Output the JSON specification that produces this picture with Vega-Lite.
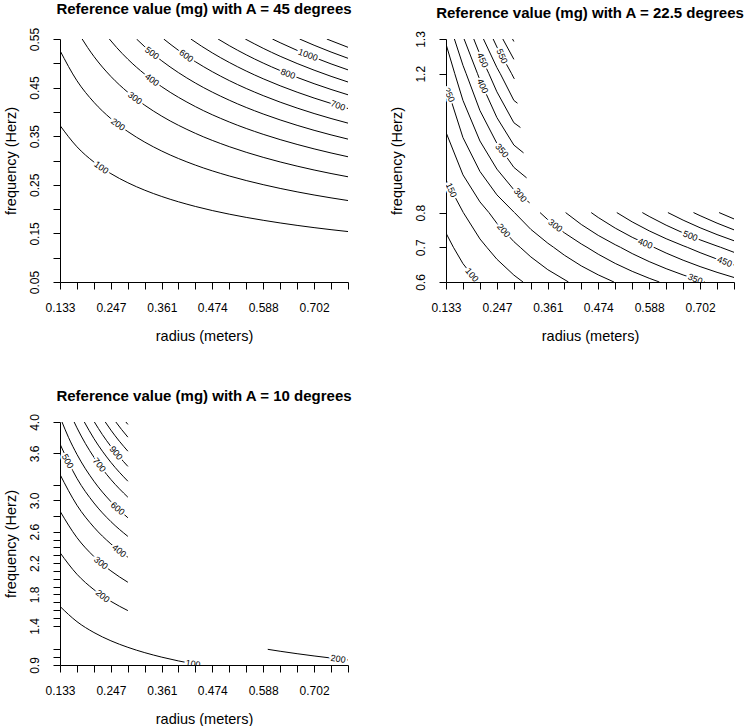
{
"$schema": "https://vega.github.io/schema/vega-lite/v6.json",
"background": "white",
"padding": {"left": 2, "top": 2, "right": 0, "bottom": 0},
"config": {
  "view": {"stroke": null},
  "font": "Liberation Sans",
  "axis": {"domainColor": "#000", "tickColor": "#000", "labelColor": "#000", "titleColor": "#000", "domainWidth": 1, "tickWidth": 1, "tickSize": 7, "grid": false, "labelFont": "Liberation Sans", "labelFontSize": 12, "titleFont": "Liberation Sans", "titleFontSize": 14.5, "titleFontWeight": "normal", "labelOverlap": false, "labelFlush": false, "zindex": 1},
  "axisX": {"labelPadding": 13, "titlePadding": 16},
  "axisY": {"labelAngle": 270, "labelAlign": "center", "labelBaseline": "bottom", "labelPadding": 12, "titlePadding": 10},
  "title": {"font": "Liberation Sans", "fontSize": 15, "fontWeight": "bold", "color": "#000", "anchor": "middle", "frame": "group", "offset": 10}
},
"datasets": {
  "c1": [
    {"lev":100,"r":0.133,"f":0.3721},{"lev":100,"r":0.171,"f":0.3282},{"lev":100,"r":0.209,"f":0.2968},{"lev":100,"r":0.247,"f":0.2730},{"lev":100,"r":0.285,"f":0.2542},{"lev":100,"r":0.323,"f":0.2388},{"lev":100,"r":0.361,"f":0.2259},{"lev":100,"r":0.436,"f":0.2055},{"lev":100,"r":0.512,"f":0.1896},{"lev":100,"r":0.588,"f":0.1770},{"lev":100,"r":0.664,"f":0.1665},{"lev":100,"r":0.740,"f":0.1577},{"lev":100,"r":0.778,"f":0.1538},
    {"lev":200,"r":0.133,"f":0.5262},{"lev":200,"r":0.171,"f":0.4641},{"lev":200,"r":0.209,"f":0.4198},{"lev":200,"r":0.247,"f":0.3861},{"lev":200,"r":0.285,"f":0.3595},{"lev":200,"r":0.323,"f":0.3377},{"lev":200,"r":0.361,"f":0.3194},{"lev":200,"r":0.436,"f":0.2906},{"lev":200,"r":0.512,"f":0.2682},{"lev":200,"r":0.588,"f":0.2503},{"lev":200,"r":0.664,"f":0.2355},{"lev":200,"r":0.740,"f":0.2231},{"lev":200,"r":0.778,"f":0.2176},
    {"lev":300,"r":0.1826,"f":0.55},{"lev":300,"r":0.195,"f":0.5323},{"lev":300,"r":0.209,"f":0.5141},{"lev":300,"r":0.247,"f":0.4729},{"lev":300,"r":0.285,"f":0.4403},{"lev":300,"r":0.323,"f":0.4136},{"lev":300,"r":0.361,"f":0.3912},{"lev":300,"r":0.436,"f":0.3560},{"lev":300,"r":0.512,"f":0.3285},{"lev":300,"r":0.588,"f":0.3065},{"lev":300,"r":0.664,"f":0.2884},{"lev":300,"r":0.740,"f":0.2732},{"lev":300,"r":0.778,"f":0.2665},
    {"lev":400,"r":0.2435,"f":0.55},{"lev":400,"r":0.26,"f":0.5323},{"lev":400,"r":0.285,"f":0.5084},{"lev":400,"r":0.323,"f":0.4775},{"lev":400,"r":0.361,"f":0.4517},{"lev":400,"r":0.436,"f":0.4110},{"lev":400,"r":0.512,"f":0.3793},{"lev":400,"r":0.588,"f":0.3539},{"lev":400,"r":0.664,"f":0.3331},{"lev":400,"r":0.740,"f":0.3155},{"lev":400,"r":0.778,"f":0.3077},
    {"lev":500,"r":0.3044,"f":0.55},{"lev":500,"r":0.323,"f":0.5339},{"lev":500,"r":0.361,"f":0.5050},{"lev":500,"r":0.398,"f":0.4810},{"lev":500,"r":0.436,"f":0.4595},{"lev":500,"r":0.512,"f":0.4241},{"lev":500,"r":0.588,"f":0.3957},{"lev":500,"r":0.664,"f":0.3724},{"lev":500,"r":0.740,"f":0.3527},{"lev":500,"r":0.778,"f":0.3440},
    {"lev":600,"r":0.3653,"f":0.55},{"lev":600,"r":0.398,"f":0.5269},{"lev":600,"r":0.436,"f":0.5034},{"lev":600,"r":0.474,"f":0.4828},{"lev":600,"r":0.512,"f":0.4645},{"lev":600,"r":0.588,"f":0.4335},{"lev":600,"r":0.664,"f":0.4079},{"lev":600,"r":0.740,"f":0.3864},{"lev":600,"r":0.778,"f":0.3769},
    {"lev":700,"r":0.4261,"f":0.55},{"lev":700,"r":0.45,"f":0.5352},{"lev":700,"r":0.474,"f":0.5215},{"lev":700,"r":0.512,"f":0.5018},{"lev":700,"r":0.550,"f":0.4841},{"lev":700,"r":0.588,"f":0.4682},{"lev":700,"r":0.664,"f":0.4406},{"lev":700,"r":0.740,"f":0.4174},{"lev":700,"r":0.778,"f":0.4070},
    {"lev":800,"r":0.487,"f":0.55},{"lev":800,"r":0.512,"f":0.5364},{"lev":800,"r":0.550,"f":0.5175},{"lev":800,"r":0.588,"f":0.5005},{"lev":800,"r":0.626,"f":0.4851},{"lev":800,"r":0.664,"f":0.4710},{"lev":800,"r":0.702,"f":0.4581},{"lev":800,"r":0.740,"f":0.4462},{"lev":800,"r":0.778,"f":0.4352},
    {"lev":900,"r":0.5479,"f":0.55},{"lev":900,"r":0.588,"f":0.5309},{"lev":900,"r":0.626,"f":0.5145},{"lev":900,"r":0.664,"f":0.4996},{"lev":900,"r":0.702,"f":0.4859},{"lev":900,"r":0.740,"f":0.4732},{"lev":900,"r":0.778,"f":0.4615},
    {"lev":1000,"r":0.6087,"f":0.55},{"lev":1000,"r":0.626,"f":0.5424},{"lev":1000,"r":0.664,"f":0.5266},{"lev":1000,"r":0.702,"f":0.5122},{"lev":1000,"r":0.740,"f":0.4988},{"lev":1000,"r":0.778,"f":0.4865},
    {"lev":1100,"r":0.6696,"f":0.55},{"lev":1100,"r":0.702,"f":0.5372},{"lev":1100,"r":0.740,"f":0.5232},{"lev":1100,"r":0.778,"f":0.5103},
    {"lev":1200,"r":0.7305,"f":0.55},{"lev":1200,"r":0.740,"f":0.5465},{"lev":1200,"r":0.778,"f":0.5329}
  ],
  "l1a": [
    {"lab":"100","r":0.2257,"f":0.2856},{"lab":"200","r":0.2629,"f":0.3743},{"lab":"300","r":0.301,"f":0.4284},{"lab":"400","r":0.339,"f":0.4661},{"lab":"500","r":0.339,"f":0.5211},{"lab":"600","r":0.416,"f":0.5154}
  ],
  "l1b": [
    {"lab":"800","r":0.6436,"f":0.4784},{"lab":"1000","r":0.6884,"f":0.5172},{"lab":"700","r":0.7556,"f":0.4130}
  ],
  "c2": [
    {"id":"100","r":0.133,"f":0.7408},{"id":"100","r":0.1496,"f":0.7},{"id":"100","r":0.171,"f":0.6529},{"id":"100","r":0.2036,"f":0.6},
    {"id":"150","r":0.133,"f":0.8934},{"id":"150","r":0.1718,"f":0.8},{"id":"150","r":0.209,"f":0.7241},{"id":"150","r":0.2244,"f":0.7},{"id":"150","r":0.247,"f":0.6656},{"id":"150","r":0.285,"f":0.6199},{"id":"150","r":0.3055,"f":0.6},
    {"id":"200","r":0.133,"f":1.0312},{"id":"200","r":0.171,"f":0.9087},{"id":"200","r":0.209,"f":0.8308},{"id":"200","r":0.2291,"f":0.8},{"id":"200","r":0.247,"f":0.7691},{"id":"200","r":0.285,"f":0.7163},{"id":"200","r":0.2992,"f":0.7},{"id":"200","r":0.323,"f":0.6723},{"id":"200","r":0.361,"f":0.6355},{"id":"200","r":0.4073,"f":0.6},
    {"id":"250","r":0.133,"f":1.169},{"id":"250","r":0.171,"f":1.0159},{"id":"250","r":0.209,"f":0.9185},{"id":"250","r":0.247,"f":0.851},{"id":"250","r":0.285,"f":0.8016},{"id":"250","r":0.2864,"f":0.8},{"id":"250","r":0.323,"f":0.7516},{"id":"250","r":0.361,"f":0.7118},{"id":"250","r":0.374,"f":0.7},{"id":"250","r":0.398,"f":0.6773},{"id":"250","r":0.436,"f":0.6464},{"id":"250","r":0.474,"f":0.6205},{"id":"250","r":0.5091,"f":0.6},
    {"id":"300a","r":0.133,"f":1.2854},{"id":"300a","r":0.1527,"f":1.2},{"id":"300a","r":0.171,"f":1.1231},{"id":"300a","r":0.209,"f":1.0062},{"id":"300a","r":0.247,"f":0.9252},{"id":"300a","r":0.285,"f":0.8658},{"id":"300a","r":0.3203,"f":0.828},
    {"id":"300b","r":0.3436,"f":0.8},{"id":"300b","r":0.361,"f":0.7795},{"id":"300b","r":0.398,"f":0.7418},{"id":"300b","r":0.436,"f":0.7096},{"id":"300b","r":0.4488,"f":0.7},{"id":"300b","r":0.474,"f":0.68},{"id":"300b","r":0.512,"f":0.6535},{"id":"300b","r":0.550,"f":0.6307},{"id":"300b","r":0.588,"f":0.6108},{"id":"300b","r":0.6109,"f":0.6},
    {"id":"350a","r":0.1518,"f":1.3},{"id":"350a","r":0.171,"f":1.2242},{"id":"350a","r":0.1782,"f":1.2},{"id":"350a","r":0.209,"f":1.0939},{"id":"350a","r":0.247,"f":0.9994},{"id":"350a","r":0.285,"f":0.9302},{"id":"350a","r":0.3135,"f":0.9},
    {"id":"350b","r":0.4009,"f":0.8},{"id":"350b","r":0.436,"f":0.7657},{"id":"350b","r":0.474,"f":0.7342},{"id":"350b","r":0.512,"f":0.7074},{"id":"350b","r":0.5237,"f":0.7},{"id":"350b","r":0.550,"f":0.6819},{"id":"350b","r":0.588,"f":0.6588},{"id":"350b","r":0.626,"f":0.6384},{"id":"350b","r":0.664,"f":0.6203},{"id":"350b","r":0.702,"f":0.6042},{"id":"350b","r":0.7128,"f":0.6},
    {"id":"400a","r":0.1735,"f":1.3},{"id":"400a","r":0.2036,"f":1.2},{"id":"400a","r":0.209,"f":1.1815},{"id":"400a","r":0.247,"f":1.0736},{"id":"400a","r":0.285,"f":0.9945},{"id":"400a","r":0.3067,"f":0.972},
    {"id":"400b","r":0.4582,"f":0.8},{"id":"400b","r":0.474,"f":0.7858},{"id":"400b","r":0.512,"f":0.7552},{"id":"400b","r":0.550,"f":0.7288},{"id":"400b","r":0.588,"f":0.7058},{"id":"400b","r":0.5985,"f":0.7},{"id":"400b","r":0.626,"f":0.6834},{"id":"400b","r":0.664,"f":0.6628},{"id":"400b","r":0.702,"f":0.6444},{"id":"400b","r":0.740,"f":0.6279},{"id":"400b","r":0.778,"f":0.6130},
    {"id":"450a","r":0.1952,"f":1.3},{"id":"450a","r":0.209,"f":1.2554},{"id":"450a","r":0.2291,"f":1.2},{"id":"450a","r":0.247,"f":1.1478},{"id":"450a","r":0.285,"f":1.0588},{"id":"450a","r":0.2997,"f":1.045},
    {"id":"450b","r":0.5155,"f":0.8},{"id":"450b","r":0.550,"f":0.7732},{"id":"450b","r":0.588,"f":0.7474},{"id":"450b","r":0.626,"f":0.7247},{"id":"450b","r":0.664,"f":0.7046},{"id":"450b","r":0.6733,"f":0.7},{"id":"450b","r":0.702,"f":0.6846},{"id":"450b","r":0.740,"f":0.6660},{"id":"450b","r":0.778,"f":0.6492},
    {"id":"500a","r":0.2169,"f":1.3},{"id":"500a","r":0.247,"f":1.2176},{"id":"500a","r":0.2546,"f":1.2},{"id":"500a","r":0.285,"f":1.1231},{"id":"500a","r":0.2931,"f":1.115},
    {"id":"500b","r":0.5727,"f":0.8},{"id":"500b","r":0.588,"f":0.7889},{"id":"500b","r":0.626,"f":0.7637},{"id":"500b","r":0.664,"f":0.7414},{"id":"500b","r":0.702,"f":0.7214},{"id":"500b","r":0.740,"f":0.7036},{"id":"500b","r":0.7481,"f":0.7},{"id":"500b","r":0.778,"f":0.6855},
    {"id":"550a","r":0.2386,"f":1.3},{"id":"550a","r":0.247,"f":1.277},{"id":"550a","r":0.28,"f":1.2},{"id":"550a","r":0.285,"f":1.1874},{"id":"550a","r":0.2863,"f":1.185},
    {"id":"550b","r":0.63,"f":0.8},{"id":"550b","r":0.664,"f":0.7782},{"id":"550b","r":0.702,"f":0.7563},{"id":"550b","r":0.740,"f":0.7366},{"id":"550b","r":0.778,"f":0.7188},
    {"id":"600a","r":0.2603,"f":1.3},{"id":"600a","r":0.285,"f":1.2414},
    {"id":"600b","r":0.6873,"f":0.8},{"id":"600b","r":0.702,"f":0.7911},{"id":"600b","r":0.740,"f":0.7696},{"id":"600b","r":0.778,"f":0.7502},
    {"id":"650a","r":0.282,"f":1.3},{"id":"650a","r":0.285,"f":1.2928},
    {"id":"650b","r":0.7446,"f":0.8},{"id":"650b","r":0.778,"f":0.7817}
  ],
  "l2a": [
    {"lab":"550","r":0.2584,"f":1.2504},{"lab":"450","r":0.215,"f":1.2389},{"lab":"400","r":0.215,"f":1.1645},{"lab":"250","r":0.1404,"f":1.1392},{"lab":"150","r":0.1449,"f":0.8648}
  ],
  "l2b": [
    {"lab":"350","r":0.2584,"f":0.9786},{"lab":"300","r":0.2994,"f":0.8504},{"lab":"200","r":0.262,"f":0.7483},{"lab":"100","r":0.191,"f":0.6204}
  ],
  "l2c": [
    {"lab":"300","r":0.3778,"f":0.7624}
  ],
  "l2d": [
    {"lab":"400","r":0.5793,"f":0.7111},{"lab":"500","r":0.6802,"f":0.7329},{"lab":"450","r":0.757,"f":0.6585},{"lab":"350","r":0.6913,"f":0.6087}
  ],
  "c3": [
    {"id":"100","r":0.133,"f":1.6475},{"id":"100","r":0.171,"f":1.453},{"id":"100","r":0.209,"f":1.3143},{"id":"100","r":0.247,"f":1.2089},{"id":"100","r":0.285,"f":1.1255},{"id":"100","r":0.323,"f":1.0572},{"id":"100","r":0.361,"f":1.0},{"id":"100","r":0.398,"f":0.9524},{"id":"100","r":0.436,"f":0.9099},{"id":"100","r":0.4457,"f":0.9},
    {"id":"200","r":0.133,"f":2.3332},{"id":"200","r":0.171,"f":2.0577},{"id":"200","r":0.209,"f":1.8612},{"id":"200","r":0.247,"f":1.7121},{"id":"200","r":0.285,"f":1.5939},
    {"id":"200b","r":0.5983,"f":1.1},{"id":"200b","r":0.626,"f":1.0754},{"id":"200b","r":0.664,"f":1.0442},{"id":"200b","r":0.702,"f":1.0155},{"id":"200b","r":0.740,"f":0.9891},{"id":"200b","r":0.778,"f":0.9647},
    {"id":"300","r":0.133,"f":2.8628},{"id":"300","r":0.171,"f":2.5247},{"id":"300","r":0.209,"f":2.2837},{"id":"300","r":0.247,"f":2.1007},{"id":"300","r":0.285,"f":1.9557},
    {"id":"400","r":0.133,"f":3.3313},{"id":"400","r":0.171,"f":2.938},{"id":"400","r":0.209,"f":2.6575},{"id":"400","r":0.247,"f":2.4445},{"id":"400","r":0.285,"f":2.2757},
    {"id":"500","r":0.133,"f":3.7195},{"id":"500","r":0.171,"f":3.2803},{"id":"500","r":0.209,"f":2.9671},{"id":"500","r":0.247,"f":2.7294},{"id":"500","r":0.285,"f":2.5409},
    {"id":"600","r":0.1375,"f":4.0},{"id":"600","r":0.152,"f":3.8044},{"id":"600","r":0.171,"f":3.5869},{"id":"600","r":0.209,"f":3.2444},{"id":"600","r":0.247,"f":2.9844},{"id":"600","r":0.285,"f":2.7784},
    {"id":"700","r":0.1647,"f":4.0},{"id":"700","r":0.171,"f":3.9255},{"id":"700","r":0.19,"f":3.724},{"id":"700","r":0.209,"f":3.5507},{"id":"700","r":0.247,"f":3.2662},{"id":"700","r":0.285,"f":3.0407},
    {"id":"800","r":0.1875,"f":4.0},{"id":"800","r":0.209,"f":3.7887},{"id":"800","r":0.247,"f":3.4851},{"id":"800","r":0.285,"f":3.2444},
    {"id":"900","r":0.21,"f":4.0},{"id":"900","r":0.228,"f":3.8389},{"id":"900","r":0.247,"f":3.6883},{"id":"900","r":0.285,"f":3.4336},
    {"id":"1000","r":0.2344,"f":4.0},{"id":"1000","r":0.247,"f":3.8964},{"id":"1000","r":0.266,"f":3.7547},{"id":"1000","r":0.285,"f":3.6274},
    {"id":"1100","r":0.2581,"f":4.0},{"id":"1100","r":0.271,"f":3.9038},{"id":"1100","r":0.285,"f":3.8067},
    {"id":"1200","r":0.2806,"f":4.0},{"id":"1200","r":0.285,"f":3.9692}
  ],
  "l3a": [
    {"lab":"500","r":0.1502,"f":3.5}
  ],
  "l3b": [
    {"lab":"700","r":0.221,"f":3.453},{"lab":"900","r":0.2586,"f":3.6046}
  ],
  "l3c": [
    {"lab":"600","r":0.2622,"f":2.8966},{"lab":"400","r":0.2658,"f":2.3565},{"lab":"300","r":0.2248,"f":2.202},{"lab":"200","r":0.2286,"f":1.7796}
  ],
  "l3d": [
    {"lab":"100","r":0.431,"f":0.9152},{"lab":"200","r":0.756,"f":0.9786}
  ]
},
"vconcat": [
  {
    "hconcat": [
      {
        "width": 288, "height": 243,
        "title": "Reference value (mg) with A = 45 degrees",
        "encoding": {
          "x": {"field": "r", "type": "quantitative", "title": "radius (meters)", "scale": {"domain": [0.133, 0.778], "nice": false, "zero": false},
                "axis": {"values": [0.133,0.171,0.209,0.247,0.285,0.323,0.361,0.398,0.436,0.474,0.512,0.550,0.588,0.626,0.664,0.702,0.740,0.778], "format": ".3f", "labelExpr": "indexof([0.133,0.247,0.361,0.474,0.588,0.702], datum.value) >= 0 ? datum.label : ''"}},
          "y": {"field": "f", "type": "quantitative", "title": "frequency (Herz)", "scale": {"domain": [0.05, 0.55], "nice": false, "zero": false},
                "axis": {"values": [0.05,0.1,0.15,0.2,0.25,0.3,0.35,0.4,0.45,0.5,0.55], "format": ".2f", "labelExpr": "indexof([0.05,0.15,0.25,0.35,0.45,0.55], datum.value) >= 0 ? datum.label : ''"}}
        },
        "layer": [
          {"data": {"name": "c1"}, "mark": {"type": "line", "color": "#000", "strokeWidth": 1, "interpolate": "monotone", "clip": true}, "encoding": {"detail": {"field": "lev", "type": "nominal"}}},
          {"data": {"name": "l1a"}, "encoding": {"text": {"field": "lab", "type": "nominal"}}, "layer": [
            {"mark": {"type": "text", "angle": 36, "fontSize": 9, "font": "Liberation Sans", "fill": "white", "stroke": "white", "strokeWidth": 4, "align": "center", "baseline": "middle", "clip": true}},
            {"mark": {"type": "text", "angle": 36, "fontSize": 9, "font": "Liberation Sans", "fill": "#000", "align": "center", "baseline": "middle", "clip": true}}
          ]},
          {"data": {"name": "l1b"}, "encoding": {"text": {"field": "lab", "type": "nominal"}}, "layer": [
            {"mark": {"type": "text", "angle": 20, "fontSize": 9, "font": "Liberation Sans", "fill": "white", "stroke": "white", "strokeWidth": 4, "align": "center", "baseline": "middle", "clip": true}},
            {"mark": {"type": "text", "angle": 20, "fontSize": 9, "font": "Liberation Sans", "fill": "#000", "align": "center", "baseline": "middle", "clip": true}}
          ]}
        ]
      },
      {
        "width": 288, "height": 243,
        "title": "Reference value (mg) with A = 22.5 degrees",
        "encoding": {
          "x": {"field": "r", "type": "quantitative", "title": "radius (meters)", "scale": {"domain": [0.133, 0.778], "nice": false, "zero": false},
                "axis": {"values": [0.133,0.171,0.209,0.247,0.285,0.323,0.361,0.398,0.436,0.474,0.512,0.550,0.588,0.626,0.664,0.702,0.740,0.778], "format": ".3f", "labelExpr": "indexof([0.133,0.247,0.361,0.474,0.588,0.702], datum.value) >= 0 ? datum.label : ''"}},
          "y": {"field": "f", "type": "quantitative", "title": "frequency (Herz)", "scale": {"domain": [0.6, 1.3], "nice": false, "zero": false},
                "axis": {"values": [0.6,0.7,0.8,1.2,1.3], "format": ".1f"}}
        },
        "layer": [
          {"data": {"name": "c2"}, "mark": {"type": "line", "color": "#000", "strokeWidth": 1, "interpolate": "linear", "clip": true}, "encoding": {"detail": {"field": "id", "type": "nominal"}}},
          {"data": {"name": "l2a"}, "encoding": {"text": {"field": "lab", "type": "nominal"}}, "layer": [
            {"mark": {"type": "text", "angle": 66, "fontSize": 9, "font": "Liberation Sans", "fill": "white", "stroke": "white", "strokeWidth": 4, "align": "center", "baseline": "middle", "clip": true}},
            {"mark": {"type": "text", "angle": 66, "fontSize": 9, "font": "Liberation Sans", "fill": "#000", "align": "center", "baseline": "middle", "clip": true}}
          ]},
          {"data": {"name": "l2b"}, "encoding": {"text": {"field": "lab", "type": "nominal"}}, "layer": [
            {"mark": {"type": "text", "angle": 50, "fontSize": 9, "font": "Liberation Sans", "fill": "white", "stroke": "white", "strokeWidth": 4, "align": "center", "baseline": "middle", "clip": true}},
            {"mark": {"type": "text", "angle": 50, "fontSize": 9, "font": "Liberation Sans", "fill": "#000", "align": "center", "baseline": "middle", "clip": true}}
          ]},
          {"data": {"name": "l2c"}, "encoding": {"text": {"field": "lab", "type": "nominal"}}, "layer": [
            {"mark": {"type": "text", "angle": 38, "fontSize": 9, "font": "Liberation Sans", "fill": "white", "stroke": "white", "strokeWidth": 4, "align": "center", "baseline": "middle", "clip": true}},
            {"mark": {"type": "text", "angle": 38, "fontSize": 9, "font": "Liberation Sans", "fill": "#000", "align": "center", "baseline": "middle", "clip": true}}
          ]},
          {"data": {"name": "l2d"}, "encoding": {"text": {"field": "lab", "type": "nominal"}}, "layer": [
            {"mark": {"type": "text", "angle": 21, "fontSize": 9, "font": "Liberation Sans", "fill": "white", "stroke": "white", "strokeWidth": 4, "align": "center", "baseline": "middle", "clip": true}},
            {"mark": {"type": "text", "angle": 21, "fontSize": 9, "font": "Liberation Sans", "fill": "#000", "align": "center", "baseline": "middle", "clip": true}}
          ]}
        ]
      }
    ],
    "spacing": 36
  },
  {
    "width": 288, "height": 243,
    "title": "Reference value (mg) with A = 10 degrees",
    "encoding": {
      "x": {"field": "r", "type": "quantitative", "title": "radius (meters)", "scale": {"domain": [0.133, 0.778], "nice": false, "zero": false},
            "axis": {"values": [0.133,0.171,0.209,0.247,0.285,0.323,0.361,0.398,0.436,0.474,0.512,0.550,0.588,0.626,0.664,0.702,0.740,0.778], "format": ".3f", "labelExpr": "indexof([0.133,0.247,0.361,0.474,0.588,0.702], datum.value) >= 0 ? datum.label : ''"}},
      "y": {"field": "f", "type": "quantitative", "title": "frequency (Herz)", "scale": {"domain": [0.9, 4.0], "nice": false, "zero": false},
            "axis": {"values": [0.9,1,1.1,1.4,1.5,1.6,1.7,1.8,1.9,2,2.1,2.2,2.3,2.4,2.5,2.6,2.8,3,3.2,3.6,4], "format": ".1f", "labelExpr": "indexof([0.9,1.4,1.8,2.2,2.6,3,3.6,4], datum.value) >= 0 ? datum.label : ''"}}
    },
    "layer": [
      {"data": {"name": "c3"}, "mark": {"type": "line", "color": "#000", "strokeWidth": 1, "interpolate": "monotone", "clip": true}, "encoding": {"detail": {"field": "id", "type": "nominal"}}},
      {"data": {"name": "l3a"}, "encoding": {"text": {"field": "lab", "type": "nominal"}}, "layer": [
        {"mark": {"type": "text", "angle": 62, "fontSize": 9, "font": "Liberation Sans", "fill": "white", "stroke": "white", "strokeWidth": 4, "align": "center", "baseline": "middle", "clip": true}},
        {"mark": {"type": "text", "angle": 62, "fontSize": 9, "font": "Liberation Sans", "fill": "#000", "align": "center", "baseline": "middle", "clip": true}}
      ]},
      {"data": {"name": "l3b"}, "encoding": {"text": {"field": "lab", "type": "nominal"}}, "layer": [
        {"mark": {"type": "text", "angle": 52, "fontSize": 9, "font": "Liberation Sans", "fill": "white", "stroke": "white", "strokeWidth": 4, "align": "center", "baseline": "middle", "clip": true}},
        {"mark": {"type": "text", "angle": 52, "fontSize": 9, "font": "Liberation Sans", "fill": "#000", "align": "center", "baseline": "middle", "clip": true}}
      ]},
      {"data": {"name": "l3c"}, "encoding": {"text": {"field": "lab", "type": "nominal"}}, "layer": [
        {"mark": {"type": "text", "angle": 39, "fontSize": 9, "font": "Liberation Sans", "fill": "white", "stroke": "white", "strokeWidth": 4, "align": "center", "baseline": "middle", "clip": true}},
        {"mark": {"type": "text", "angle": 39, "fontSize": 9, "font": "Liberation Sans", "fill": "#000", "align": "center", "baseline": "middle", "clip": true}}
      ]},
      {"data": {"name": "l3d"}, "encoding": {"text": {"field": "lab", "type": "nominal"}}, "layer": [
        {"mark": {"type": "text", "angle": 8, "fontSize": 9, "font": "Liberation Sans", "fill": "white", "stroke": "white", "strokeWidth": 4, "align": "center", "baseline": "middle", "clip": true}},
        {"mark": {"type": "text", "angle": 8, "fontSize": 9, "font": "Liberation Sans", "fill": "#000", "align": "center", "baseline": "middle", "clip": true}}
      ]}
    ]
  }
],
"spacing": 45
}
